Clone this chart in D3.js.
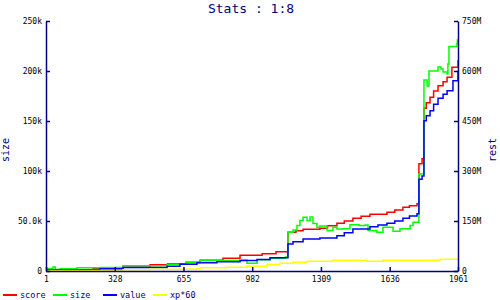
<!DOCTYPE html>
<html>
<head>
<meta charset="utf-8">
<script src="https://cdn.jsdelivr.net/npm/d3@7"></script>
<style>
    body { margin: 0; background: #fff; }
    text { font-family: "DejaVu Sans Mono", monospace; }
</style>
</head>
<body>
<div class="canvas"></div>
<script>
// x positions (game step) and series values
const scoreX = [1, 225, 367, 496, 580, 667, 734, 843, 924, 1029, 1095, 1152, 1190, 1224, 1304, 1340, 1385, 1420, 1461, 1500, 1542, 1623, 1660, 1699, 1730, 1766, 1775, 1790, 1799, 1810, 1828, 1845, 1866, 1890, 1909, 1932, 1961];
const score  = [3, 7, 11, 19, 22, 26, 32, 38, 47, 52, 58, 116, 121, 125, 128, 136, 143, 150, 158, 164, 170, 176, 183, 191, 196, 202, 322, 337, 488, 505, 521, 540, 556, 568, 581, 611, 632];

const sizeX = [1, 34, 45, 68, 148, 258, 367, 577, 667, 734, 843, 934, 957, 1005, 1067, 1140, 1152, 1176, 1195, 1209, 1224, 1243, 1257, 1271, 1290, 1304, 1338, 1366, 1385, 1414, 1447, 1490, 1520, 1533, 1575, 1604, 1640, 1652, 1685, 1733, 1747, 1771, 1775, 1799, 1814, 1823, 1866, 1880, 1890, 1909, 1913, 1918, 1956, 1958, 1961];
const size  = [2.5, 4, 1.5, 2.2, 3.2, 3.5, 5.2, 6.8, 8.2, 10.5, 10.5, 11, 7.8, 11.2, 12.8, 14, 38.8, 41, 45.5, 50.5, 53.8, 50.5, 54, 47.5, 43.8, 45, 40.5, 43.8, 42, 42.2, 46.2, 45.5, 46, 40.5, 38.8, 43.8, 43.8, 39.8, 42.2, 45.5, 48.8, 48.8, 97, 191, 185, 200, 204, 202, 199, 197, 207, 224.5, 227.5, 231, 227];

const valueX = [1, 258, 367, 577, 638, 719, 814, 924, 1005, 1067, 1152, 1176, 1224, 1304, 1338, 1385, 1420, 1461, 1542, 1580, 1623, 1660, 1699, 1730, 1766, 1775, 1790, 1799, 1810, 1828, 1845, 1866, 1890, 1909, 1937, 1961];
const value  = [3.6, 6.6, 10.5, 14.5, 20.5, 24.5, 27.6, 31.5, 34.5, 40, 81, 88, 96, 99, 99, 106, 115, 126, 133, 138, 143, 150, 158, 165, 172, 275, 285, 451, 466, 481, 500, 518, 530, 541, 571, 601];

const xpX = [1, 367, 496, 719, 734, 862, 957, 1052, 1114, 1176, 1243, 1366, 1528, 1604, 1875, 1961];
const xp  = [1.5, 3.5, 5.4, 7.5, 9.6, 11.4, 14.4, 19.5, 23.4, 26.4, 29.4, 32.4, 29.4, 32.4, 35.4, 35.4];

const xTicks = [1, 328, 655, 982, 1309, 1636, 1961];
const leftTicks = [0, 50, 100, 150, 200, 250];      // thousands
const rightTicks = [0, 150, 300, 450, 600, 750];    // millions

const navy = '#000080';
const margin = { top: 21, right: 42, bottom: 29, left: 46 };
const width = 500, height = 300;
const graphWidth = width - margin.left - margin.right;
const graphHeight = height - margin.top - margin.bottom;

const svg = d3.select('.canvas')
    .append('svg')
    .attr('width', width)
    .attr('height', height)
;

// title
svg.append('text')
    .attr('x', 251)
    .attr('y', 13)
    .attr('text-anchor', 'middle')
    .attr('font-size', 13)
    .attr('fill', navy)
    .text('Stats : 1:8')
;

const graph = svg.append('g')
    .attr('transform', `translate(${margin.left}, ${margin.top})`)
;

// scales
const x = d3.scaleLinear().domain([1, 1961]).range([0, graphWidth]);
const yLeft = d3.scaleLinear().domain([0, 250]).range([graphHeight, 0]);
const yRight = d3.scaleLinear().domain([0, 750]).range([graphHeight, 0]);

// lines
const series = [
    { name: 'score', xs: scoreX, ys: score, y: yRight, color: '#ff0000' },
    { name: 'size', xs: sizeX, ys: size, y: yLeft, color: '#00ff00' },
    { name: 'value', xs: valueX, ys: value, y: yRight, color: '#0000ff' },
    { name: 'xp*60', xs: xpX, ys: xp, y: yRight, color: '#ffff00' }
];

series.forEach(s => {
    const pts = s.xs.map((v, i) => [v, s.ys[i]]);
    const line = d3.line()
        .x(d => x(d[0]))
        .y(d => s.y(d[1]))
        .curve(d3.curveStepAfter)
    ;
    graph.append('path')
        .datum(pts)
        .attr('fill', 'none')
        .attr('stroke', s.color)
        .attr('stroke-width', 1.5)
        .attr('d', line)
    ;
});

// axes
const xAxis = d3.axisBottom(x).tickValues(xTicks).tickSizeInner(-4).tickSizeOuter(0).tickPadding(5)
    .tickFormat(d3.format('d'));
const leftAxis = d3.axisLeft(yLeft).tickValues(leftTicks).tickSizeInner(-4).tickSizeOuter(0).tickPadding(4)
    .tickFormat(d => d === 0 ? '0' : d3.format('.3s')(d * 1000));
const rightAxis = d3.axisRight(yRight).tickValues(rightTicks).tickSizeInner(-4).tickSizeOuter(0).tickPadding(4)
    .tickFormat(d => d === 0 ? '0' : d + 'M');

const xAxisGroup = graph.append('g').attr('transform', `translate(0, ${graphHeight})`).call(xAxis);
const leftGroup = graph.append('g').call(leftAxis);
const rightGroup = graph.append('g').attr('transform', `translate(${graphWidth}, 0)`).call(rightAxis);

[xAxisGroup, leftGroup, rightGroup].forEach(g => {
    g.select('.domain').attr('stroke', navy).attr('stroke-width', 1.5);
    g.selectAll('.tick line').attr('stroke', navy).attr('stroke-width', 1.5);
    g.selectAll('text').attr('font-family', '"DejaVu Sans Mono", monospace').attr('font-size', 8).attr('fill', '#000');
});

// axis titles
svg.append('text')
    .attr('transform', 'translate(9, 150) rotate(-90)')
    .attr('text-anchor', 'middle')
    .attr('font-size', 10)
    .attr('fill', navy)
    .text('size')
;
svg.append('text')
    .attr('transform', 'translate(496, 150) rotate(-90)')
    .attr('text-anchor', 'middle')
    .attr('font-size', 10)
    .attr('fill', navy)
    .text('rest')
;

// legend
const legend = svg.selectAll('.legend')
    .data(series)
    .enter()
    .append('g')
    .attr('transform', (d, i) => `translate(${3 + i * 50}, 295)`)
;
legend.append('line')
    .attr('x1', 0).attr('x2', 14)
    .attr('stroke', d => d.color)
    .attr('stroke-width', 2)
;
legend.append('text')
    .attr('x', 17)
    .attr('y', 3)
    .attr('font-size', 8.5)
    .attr('fill', navy)
    .text(d => d.name)
;
</script>
</body>
</html>
